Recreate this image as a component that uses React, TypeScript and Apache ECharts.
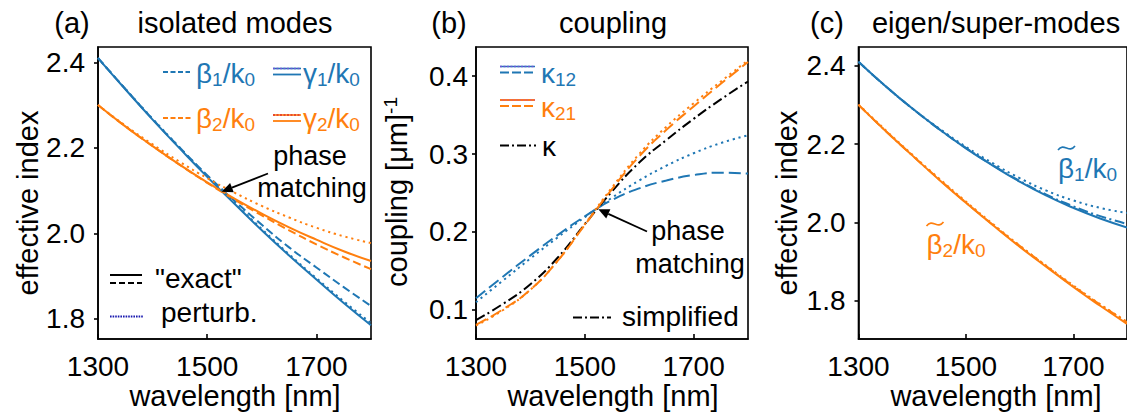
import { useEffect, useRef } from "react";
import * as echarts from "echarts";

// ---------- data ----------
const wavelength = [1300, 1350, 1400, 1450, 1500, 1550, 1600, 1650, 1700, 1750, 1800];
const xTicks = [1300, 1500, 1700];
const indexTicks = [1.8, 2.0, 2.2, 2.4];
const couplingTicks = [0.1, 0.2, 0.3, 0.4];

// (a) isolated modes
const beta1 = [2.410, 2.338, 2.267, 2.200, 2.136, 2.076, 2.020, 1.967, 1.920, 1.874, 1.830];
const gamma1 = [2.410, 2.337, 2.266, 2.198, 2.132, 2.069, 2.007, 1.948, 1.892, 1.837, 1.785];
const gamma1Perturb = [2.410, 2.338, 2.268, 2.200, 2.134, 2.071, 2.010, 1.951, 1.895, 1.841, 1.790];
const beta2 = [2.300, 2.250, 2.204, 2.160, 2.118, 2.079, 2.042, 2.007, 1.974, 1.944, 1.916];
const gamma2 = [2.300, 2.250, 2.204, 2.160, 2.119, 2.081, 2.046, 2.014, 1.985, 1.958, 1.935];
const gamma2Perturb = [2.300, 2.252, 2.208, 2.167, 2.129, 2.095, 2.064, 2.037, 2.013, 1.993, 1.977];

// (b) coupling
const kappa12 = [0.115, 0.143, 0.170, 0.196, 0.220, 0.241, 0.256, 0.266, 0.273, 0.276, 0.275];
const kappa12Perturb = [0.110, 0.138, 0.166, 0.193, 0.219, 0.244, 0.266, 0.285, 0.301, 0.314, 0.324];
const kappa21 = [0.081, 0.101, 0.126, 0.163, 0.209, 0.255, 0.297, 0.331, 0.361, 0.390, 0.418];
const kappa21Perturb = [0.080, 0.100, 0.126, 0.163, 0.210, 0.257, 0.300, 0.335, 0.365, 0.393, 0.420];
const kappaSimplified = [0.087, 0.108, 0.133, 0.167, 0.210, 0.252, 0.289, 0.318, 0.345, 0.370, 0.393];

// (c) eigen/super-modes
const superBeta1 = [2.410, 2.348, 2.291, 2.238, 2.189, 2.145, 2.104, 2.068, 2.037, 2.010, 1.987];
const superBeta1Simplified = [2.410, 2.348, 2.291, 2.238, 2.190, 2.146, 2.106, 2.071, 2.041, 2.016, 1.996];
const superBeta1Perturb = [2.410, 2.348, 2.291, 2.240, 2.193, 2.151, 2.113, 2.081, 2.056, 2.037, 2.024];
const superBeta2 = [2.300, 2.234, 2.171, 2.109, 2.050, 1.993, 1.938, 1.886, 1.835, 1.787, 1.741];
const superBeta2Simplified = [2.300, 2.234, 2.171, 2.110, 2.051, 1.994, 1.940, 1.888, 1.837, 1.790, 1.745];
const superBeta2Perturb = [2.301, 2.236, 2.173, 2.112, 2.053, 1.996, 1.941, 1.889, 1.839, 1.791, 1.746];

// ---------- styling ----------
const FONT = "'Liberation Sans', Arial, Helvetica, sans-serif";
const BLUE = "#1f77b4";
const ORANGE = "#ff7f0e";
const BLACK = "#000000";
const DASHED = [8, 4];
const DOTTED = [2.2, 3.8];
const DASHDOT = [10, 3.5, 2, 3.5];
const LW = 2;

const TICK_FS = 28;
const LABEL_FS = 29;
const NOTE_FS = 27;

const panels = [
  { left: 98, top: 47, width: 273, height: 292, yMin: 1.7527, yMax: 2.4358, yTicks: indexTicks, labelMargin: 13 },
  { left: 476, top: 47, width: 272, height: 292, yMin: 0.0628, yMax: 0.4372, yTicks: couplingTicks, labelMargin: 8 },
  { left: 858.5, top: 47, width: 271, height: 292, yMin: 1.7022, yMax: 2.4477, yTicks: indexTicks, labelMargin: 13 },
];

function curve(panel: number, values: number[], color: string, dash?: number[], z = 2) {
  return {
    type: "line",
    xAxisIndex: panel,
    yAxisIndex: panel,
    data: wavelength.map((w, i) => [w, values[i]]),
    smooth: 0.5,
    showSymbol: false,
    symbol: "none",
    silent: true,
    z,
    lineStyle: { color, width: LW, type: dash ?? "solid", cap: "butt" },
  };
}

function txt(x: number, y: number, text: string, extra: any = {}, rotation = 0) {
  return {
    type: "text",
    x,
    y,
    rotation,
    z: 100,
    silent: true,
    style: {
      text,
      fontSize: LABEL_FS,
      fontFamily: FONT,
      fill: BLACK,
      align: "center",
      verticalAlign: "middle",
      lineHeight: 26,
      ...extra,
    },
  };
}

function seg(x1: number, y1: number, x2: number, y2: number, stroke: string, dash?: number[], width = LW) {
  return {
    type: "line",
    z: 100,
    silent: true,
    shape: { x1, y1, x2, y2 },
    style: { stroke, lineWidth: width, lineDash: dash ?? null },
  };
}

// small wave drawn over a letter (the tilde accent)
function tilde(x: number, y: number, w: number, color: string) {
  return {
    type: "bezierCurve",
    z: 100,
    silent: true,
    shape: {
      x1: x,
      y1: y + 2,
      cpx1: x + w * 0.35,
      cpy1: y - 6,
      cpx2: x + w * 0.65,
      cpy2: y + 6,
      x2: x + w,
      y2: y - 2,
    },
    style: { stroke: color, lineWidth: 1.6, fill: null },
  };
}

function arrow(x1: number, y1: number, x2: number, y2: number) {
  const dx = x2 - x1;
  const dy = y2 - y1;
  const len = Math.hypot(dx, dy);
  const ux = dx / len;
  const uy = dy / len;
  const head = 11;
  const half = 5;
  const bx = x2 - ux * head;
  const by = y2 - uy * head;
  return [
    seg(x1, y1, bx, by, BLACK, undefined, 1.8),
    {
      type: "polygon",
      z: 100,
      silent: true,
      shape: {
        points: [
          [x2, y2],
          [bx - uy * half, by + ux * half],
          [bx + uy * half, by - ux * half],
        ],
      },
      style: { fill: BLACK },
    },
  ];
}

// label with subscripts, e.g. β₁/k₀
function subLabel(x: number, y: number, parts: [string, string][], color: string, align = "left") {
  const text = parts.map(([k, t]) => `{${k}|${t}}`).join("");
  return {
    type: "text",
    x,
    y,
    z: 100,
    silent: true,
    style: {
      text,
      align,
      verticalAlign: "middle",
      rich: {
        m: { fontSize: 28, fontFamily: FONT, fill: color, verticalAlign: "middle", lineHeight: 32 },
        s: { fontSize: 19, fontFamily: FONT, fill: color, verticalAlign: "bottom", lineHeight: 32 },
      },
    },
  };
}

function buildOption() {
  const series = [
    // (a)
    curve(0, beta1, BLUE, DASHED),
    curve(0, gamma1, BLUE),
    curve(0, gamma1Perturb, BLUE, DOTTED, 3),
    curve(0, beta2, ORANGE, DASHED),
    curve(0, gamma2, ORANGE),
    curve(0, gamma2Perturb, ORANGE, DOTTED, 3),
    // (b)
    curve(1, kappa12, BLUE, [12, 5]),
    curve(1, kappa12Perturb, BLUE, DOTTED),
    curve(1, kappaSimplified, BLACK, DASHDOT),
    curve(1, kappa21, ORANGE, [12, 5]),
    curve(1, kappa21Perturb, ORANGE, DOTTED, 3),
    // (c)
    curve(2, superBeta1, BLUE),
    curve(2, superBeta1Simplified, BLUE, DASHDOT),
    curve(2, superBeta1Perturb, BLUE, DOTTED),
    curve(2, superBeta2, ORANGE),
    curve(2, superBeta2Simplified, ORANGE, DASHDOT),
    curve(2, superBeta2Perturb, ORANGE, DOTTED),
  ];

  const graphic: any[] = [
    // panel titles
    txt(72, 23, "(a)"),
    txt(235, 23, "isolated modes"),
    txt(449, 23, "(b)"),
    txt(613, 23, "coupling"),
    txt(827, 23, "(c)"),
    txt(996, 23, "eigen/super-modes"),
    // axis titles
    txt(235, 396, "wavelength [nm]", { lineHeight: 24 }),
    txt(613, 396, "wavelength [nm]", { lineHeight: 24 }),
    txt(996, 396, "wavelength [nm]", { lineHeight: 24 }),
    txt(27.5, 203, "effective index", {}, Math.PI / 2),
    txt(787, 203, "effective index", {}, Math.PI / 2),
    {
      type: "text",
      x: 397,
      y: 192,
      rotation: Math.PI / 2,
      z: 100,
      silent: true,
      style: {
        text: "{m|coupling [μm]}{sup|-1}",
        align: "center",
        verticalAlign: "middle",
        rich: {
          m: { fontSize: LABEL_FS, fontFamily: FONT, fill: BLACK, verticalAlign: "middle", lineHeight: 32 },
          sup: { fontSize: 19, fontFamily: FONT, fill: BLACK, verticalAlign: "top", lineHeight: 32 },
        },
      },
    },

    // (a) legend, top right
    seg(163, 72, 190, 72, BLUE, [5, 2.5]),
    subLabel(196, 73, [["m", "β"], ["s", "1"], ["m", "/k"], ["s", "0"]], BLUE),
    seg(273, 68.5, 301, 68.5, BLUE, undefined, 1.6),
    seg(273, 68.5, 301, 68.5, "#6b55d6", [2, 1.5], 1.4),
    seg(273, 74.5, 301, 74.5, BLUE, undefined, 1.8),
    subLabel(303, 73, [["m", "γ"], ["s", "1"], ["m", "/k"], ["s", "0"]], BLUE),
    seg(163, 118, 192, 118, ORANGE, [5, 2.5]),
    subLabel(196, 118, [["m", "β"], ["s", "2"], ["m", "/k"], ["s", "0"]], ORANGE),
    seg(273, 115, 301, 115, ORANGE, undefined, 1.6),
    seg(273, 115, 301, 115, "#e0302a", [2, 1.5], 1.4),
    seg(273, 121, 301, 121, ORANGE, undefined, 1.8),
    subLabel(303, 118, [["m", "γ"], ["s", "2"], ["m", "/k"], ["s", "0"]], ORANGE),

    // (a) legend, bottom left
    seg(110, 275, 142, 275, BLACK),
    seg(110, 283, 142, 283, BLACK, [6, 3]),
    txt(155, 278, "\"exact\"", { align: "left", fontSize: 28 }),
    seg(110, 316.5, 143, 316.5, "#1a1ab0", [1.6, 1], 2),
    txt(161, 312, "perturb.", { align: "left", fontSize: 28 }),

    // (a) annotation
    txt(310, 156, "phase", { fontSize: NOTE_FS }),
    txt(312, 188, "matching", { fontSize: NOTE_FS }),
    ...arrow(268, 173.5, 221.7, 191.7),

    // (b) legend
    seg(500, 66.5, 535, 66.5, BLUE, undefined, 1.4),
    seg(500, 66.5, 535, 66.5, "#6b55d6", [2, 1.5], 1.4),
    seg(500, 72.5, 535, 72.5, BLUE, [9, 3]),
    subLabel(541, 73, [["m", "κ"], ["s", "12"]], BLUE),
    seg(500, 100, 535, 100, "#e0302a", undefined, 1.4),
    seg(500, 100, 535, 100, ORANGE, [2, 1.5], 1.6),
    seg(500, 106, 535, 106, ORANGE, [9, 3]),
    subLabel(541, 107, [["m", "κ"], ["s", "21"]], ORANGE),
    seg(500, 145.5, 536, 145.5, BLACK, [9, 3, 2, 3]),
    txt(542, 146, "κ", { align: "left", fontSize: 28 }),

    // (b) simplified legend + annotation
    seg(573, 317.5, 611, 317.5, BLACK, [9, 3, 2, 3]),
    txt(622, 316, "simplified", { align: "left", fontSize: 28 }),
    txt(688, 231, "phase", { fontSize: NOTE_FS }),
    txt(690, 264, "matching", { fontSize: NOTE_FS }),
    ...arrow(647, 231.5, 598.3, 209.3),

    // (c) curve labels
    subLabel(1058, 168, [["m", "β"], ["s", "1"], ["m", "/k"], ["s", "0"]], BLUE),
    tilde(1058, 148, 17, BLUE),
    subLabel(926.5, 244, [["m", "β"], ["s", "2"], ["m", "/k"], ["s", "0"]], ORANGE),
    tilde(926.5, 224, 17, ORANGE),
  ];

  return {
    animation: false,
    backgroundColor: "#ffffff",
    textStyle: { fontFamily: FONT },
    grid: panels.map((p) => ({
      left: p.left,
      top: p.top,
      width: p.width,
      height: p.height,
      show: true,
      borderColor: BLACK,
      borderWidth: 1.6,
      backgroundColor: "transparent",
      containLabel: false,
    })),
    xAxis: panels.map((_, i) => ({
      type: "value",
      gridIndex: i,
      min: 1300,
      max: 1800,
      axisLine: { show: true, onZero: false, lineStyle: { color: BLACK, width: 1.6 } },
      axisTick: { show: true, inside: true, length: 5, customValues: xTicks, lineStyle: { color: BLACK, width: 1.6 } },
      axisLabel: {
        show: true,
        customValues: xTicks,
        fontSize: TICK_FS,
        fontFamily: FONT,
        color: BLACK,
        margin: 16,
        lineHeight: 22,
        formatter: (v: number) => String(v),
      },
      splitLine: { show: false },
    })),
    yAxis: panels.map((p, i) => ({
      type: "value",
      gridIndex: i,
      min: p.yMin,
      max: p.yMax,
      axisLine: { show: true, onZero: false, lineStyle: { color: BLACK, width: 1.6 } },
      axisTick: { show: true, inside: false, length: 4, customValues: p.yTicks, lineStyle: { color: BLACK, width: 1.6 } },
      axisLabel: {
        show: true,
        customValues: p.yTicks,
        fontSize: TICK_FS,
        fontFamily: FONT,
        color: BLACK,
        margin: p.labelMargin,
        formatter: (v: number) => v.toFixed(1),
      },
      splitLine: { show: false },
    })),
    series,
    graphic,
  };
}

export default function App() {
  const ref = useRef<HTMLDivElement>(null);
  useEffect(() => {
    if (!ref.current) return;
    const chart = echarts.init(ref.current, undefined, { renderer: "svg" });
    chart.setOption(buildOption() as any);
    return () => chart.dispose();
  }, []);
  return (
    <div
      ref={ref}
      style={{ position: "absolute", left: 0, top: 0, width: 1127, height: 414, background: "#fff" }}
    />
  );
}
